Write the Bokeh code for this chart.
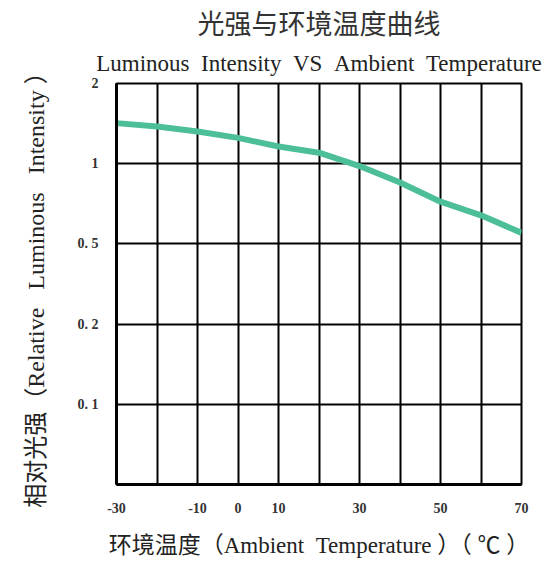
import numpy as np
from bokeh.plotting import figure
from bokeh.models import FixedTicker, Title
from bokeh.embed import file_html
from bokeh.resources import INLINE

# Data
temperature = [-30, -20, -10, 0, 10, 20, 30, 40, 50, 60, 70]
rel_intensity = [1.42, 1.38, 1.32, 1.25, 1.16, 1.10, 0.98, 0.85, 0.72, 0.64, 0.55]

x_ticks = [-30, -10, 0, 10, 30, 50, 70]
x_grid = [-20, -10, 0, 10, 20, 30, 40, 50, 60]
y_tick_values = [0.1, 0.2, 0.5, 1, 2]
y_tick_labels = ["0. 1", "0. 2", "0. 5", "1", "2"]
y_tick_pos = [1, 2, 3, 4, 5]

# The chart's y scale is an evenly spaced grid of these intensity values
y_pos = np.interp(np.log10(rel_intensity), np.log10(y_tick_values), y_tick_pos)

SERIF = '"Liberation Serif", "Noto Sans CJK SC"'
SP = " \u00a0"
SP3 = " \u00a0\u00a0"

p = figure(width=545, height=560, output_backend="svg", toolbar_location=None,
           x_range=(-30, 70), y_range=(0, 5),
           min_border_left=116, min_border_right=24, min_border_top=82,
           min_border_bottom=72)
p.background_fill_color = "white"
p.border_fill_color = "white"
p.outline_line_color = "black"
p.outline_line_width = 2

p.title = Title(text="光强与环境温度曲线", align="center", offset=-10,
                text_font='"Noto Sans CJK SC"', text_font_size="27px",
                text_font_style="normal", text_color="#333333", standoff=0)
p.add_layout(Title(text=SP.join(["Luminous", "Intensity", "VS", "Ambient", "Temperature"]),
                   align="center", offset=2, text_font=SERIF, text_font_size="23px",
                   text_font_style="normal", text_color="#222222", standoff=15), "above")

p.xaxis.ticker = FixedTicker(ticks=x_ticks)
p.xaxis.major_label_overrides = {t: str(t) for t in x_ticks}
p.yaxis.ticker = FixedTicker(ticks=y_tick_pos)
p.yaxis.major_label_overrides = dict(zip(y_tick_pos, y_tick_labels))

p.xgrid.ticker = FixedTicker(ticks=x_grid)
p.ygrid.ticker = FixedTicker(ticks=[1, 2, 3, 4])
for g in (p.xgrid, p.ygrid):
    g.grid_line_color = "black"
    g.grid_line_width = 2
    g.grid_line_alpha = 1

for ax in (p.xaxis, p.yaxis):
    ax.axis_line_color = "black"
    ax.axis_line_width = 3
    ax.major_tick_line_color = None
    ax.minor_tick_line_color = None
    ax.major_label_text_font = SERIF
    ax.major_label_text_font_size = "14px"
    ax.major_label_text_font_style = "bold"
    ax.major_label_text_color = "#333333"
    ax.axis_label_text_font = SERIF
    ax.axis_label_text_font_style = "normal"
    ax.axis_label_text_color = "#222222"

p.xaxis.axis_label_text_font_size = "23px"
p.yaxis.axis_label_text_font_size = "24px"
p.xaxis.major_label_standoff = 12
p.yaxis.major_label_standoff = 12
p.xaxis.axis_label = "环境温度（Ambient" + SP + "Temperature\u00a0）（\u00a0℃\u00a0）"
p.yaxis.axis_label = "相对光强（Relative" + SP3 + "Luminous" + SP3 + "Intensity\u00a0）"
p.xaxis.axis_label_standoff = 17
p.yaxis.axis_label_standoff = 26

p.line(temperature, y_pos, line_color="#4dbf98", line_width=6)

open("out.html", "w").write(file_html(p, INLINE))
